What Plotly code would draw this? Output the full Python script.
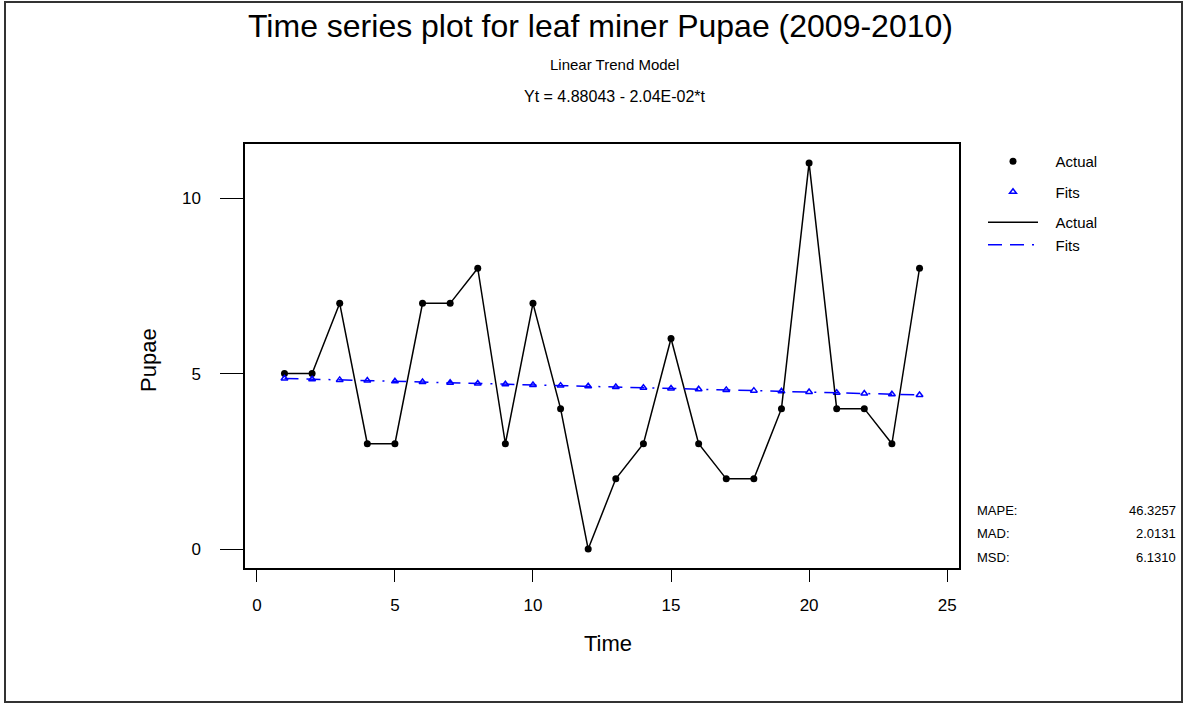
import plotly.graph_objects as go

# ---- data ----
time_idx = list(range(1, 25))
actual = [5, 5, 7, 3, 3, 7, 7, 8, 3, 7, 4, 0, 2, 3, 6, 3, 2, 2, 4, 11, 4, 4, 3, 8]
fits = [4.860, 4.840, 4.819, 4.799, 4.778, 4.758, 4.738, 4.717, 4.697, 4.676, 4.656, 4.636,
        4.615, 4.595, 4.574, 4.554, 4.534, 4.513, 4.493, 4.472, 4.452, 4.432, 4.411, 4.391]
x_ticks = [0, 5, 10, 15, 20, 25]
y_ticks = [0, 5, 10]
stat_names = ["MAPE:", "MAD:", "MSD:"]
stat_values = ["46.3257", "2.0131", "6.1310"]

FONT = "Arial, Liberation Sans, sans-serif"
W, H = 1184, 704
L, R, T, B = 245, 225, 144, 136
PW, PH = W - L - R, H - T - B
BLUE = "#0000ff"
PAD = "\u00a0\u00a0\u00a0"


def px(x):
    return (x - L) / PW


def py(y):
    return (H - B - y) / PH


fig = go.Figure()
fig.add_trace(go.Scatter(x=time_idx, y=actual, mode="markers", name=PAD + "Actual",
                         marker=dict(symbol="circle", size=7, color="black"),
                         legendgroup="g1"))
fig.add_trace(go.Scatter(x=time_idx, y=fits, mode="markers", name=PAD + "Fits",
                         marker=dict(symbol="triangle-up-open", size=6, color=BLUE,
                                     line=dict(width=1.5, color=BLUE)),
                         legendgroup="g2"))
fig.add_trace(go.Scatter(x=time_idx, y=actual, mode="lines", name=PAD + "Actual",
                         line=dict(color="black", width=1.5), legendgroup="g3"))
fig.add_trace(go.Scatter(x=time_idx, y=fits, mode="lines", name=PAD + "Fits",
                         line=dict(color=BLUE, width=1.5,
                                   dash="14px,8px,14px,8px,2px,8px"),
                         legendgroup="g3"))

annotations = [
    dict(text="Time series plot for leaf miner Pupae (2009-2010)", x=px(600), y=py(26),
         font=dict(size=32, color="black", family=FONT)),
    dict(text="Linear Trend Model", x=px(614), y=py(64),
         font=dict(size=15, color="black", family=FONT)),
    dict(text="Yt = 4.88043 - 2.04E-02*t", x=px(615), y=py(97),
         font=dict(size=16, color="black", family=FONT)),
    dict(text="Time", x=px(608), y=py(643), font=dict(size=22, color="black", family=FONT)),
    dict(text="Pupae", x=px(148), y=py(360), textangle=-90,
         font=dict(size=22, color="black", family=FONT)),
]
for a in annotations:
    a.update(xref="paper", yref="paper", showarrow=False, xanchor="center", yanchor="middle")

stat_y = [510, 533, 557]
for name, val, yy in zip(stat_names, stat_values, stat_y):
    annotations.append(dict(text=name, x=px(975), y=py(yy), xref="paper", yref="paper",
                            showarrow=False, xanchor="left", yanchor="middle",
                            font=dict(size=13, color="black", family=FONT)))
    annotations.append(dict(text=val, x=px(1178), y=py(yy), xref="paper", yref="paper",
                            showarrow=False, xanchor="right", yanchor="middle",
                            font=dict(size=13, color="black", family=FONT)))

fig.update_layout(
    width=W, height=H,
    margin=dict(l=L, r=R, t=T, b=B, pad=0),
    paper_bgcolor="white", plot_bgcolor="white",
    font=dict(family=FONT, color="black"),
    showlegend=True,
    legend=dict(x=px(983), y=py(145), xanchor="left", yanchor="top",
                font=dict(size=15, color="black", family=FONT),
                bgcolor="rgba(0,0,0,0)", borderwidth=0,
                tracegroupgap=8, itemwidth=50),
    annotations=annotations,
    shapes=[dict(type="rect", xref="paper", yref="paper",
                 x0=px(5), x1=px(1182), y0=py(702), y1=py(2),
                 line=dict(color="#333333", width=2))],
)
fig.update_xaxes(range=[-0.43, 25.43], tickvals=x_ticks, ticktext=[str(v) for v in x_ticks],
                 showgrid=False, zeroline=False, showline=True, mirror=True,
                 linecolor="black", linewidth=1.5, ticks="outside", ticklen=12,
                 tickwidth=1.2, tickcolor="black", tickfont=dict(size=17, family=FONT),
                 ticklabelstandoff=9)
fig.update_yaxes(range=[-0.54, 11.54], tickvals=y_ticks, ticktext=[str(v) for v in y_ticks],
                 showgrid=False, zeroline=False, showline=True, mirror=True,
                 linecolor="black", linewidth=1.5, ticks="outside", ticklen=23,
                 tickwidth=1.2, tickcolor="black", tickfont=dict(size=17, family=FONT),
                 ticklabelstandoff=16)

fig.write_html("out.html")
